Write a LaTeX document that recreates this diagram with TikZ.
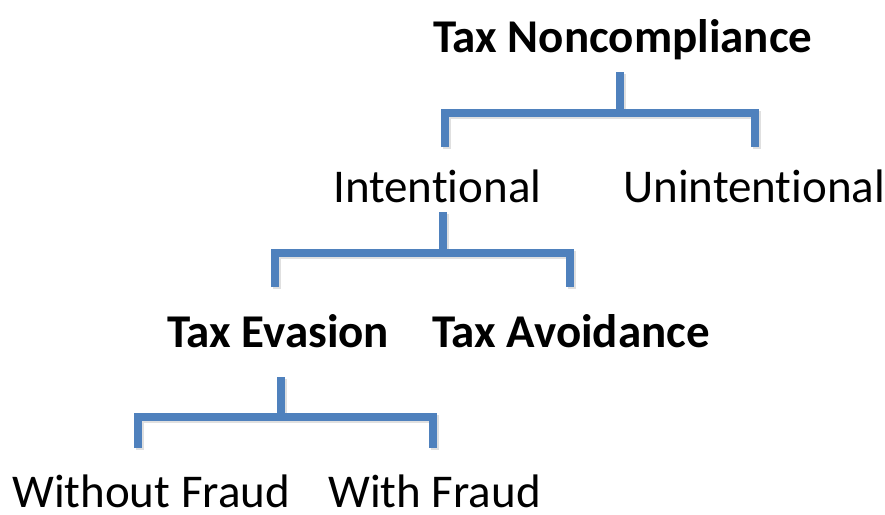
\documentclass[tikz,border=0pt]{standalone}
\usepackage{fontspec}
\setmainfont[Ligatures=NoCommon]{Carlito}
\definecolor{bracketblue}{HTML}{4F81BD}
% split the t-i pair so that it is set as two letters
\newcommand{\tsep}{t\kern0pt}
\begin{document}
\begin{tikzpicture}[x=1pt,y=-1pt,
  label/.style={anchor=base west,inner sep=0pt,font=\fontsize{47}{56}\selectfont},
  head/.style={label,font=\fontsize{47}{56}\selectfont\bfseries},
  bracket/.style={draw=bracketblue,line width=8pt,line cap=butt,miter limit=10},
  shade/.style={draw=black!35,opacity=0.35,line width=8pt,line cap=butt,miter limit=10}]
\useasboundingbox (0,0) rectangle (885,514);

% labels
\node[head]  (tn)  at (433,52)  {Tax Noncompliance};
\node[label] (int) at (333,202) {Inten\tsep ional};
\node[label] (un)  at (623,202) {Uninten\tsep ional};
\node[head]  (te)  at (167,347) {Tax Evasion};
\node[head]  (ta)  at (432,347) {Tax Avoidance};
\node[label] (wo)  at (12,507)  {Without Fraud};
\node[label] (wf)  at (328,507) {With Fraud};

% bracket anchor points
\coordinate (tnS) at (620,72);   \coordinate (tnB) at (620,113);
\coordinate (intT) at (445,147); \coordinate (unT) at (755,147);
\coordinate (intS) at (443,212); \coordinate (intB) at (443,253);
\coordinate (teT) at (275,287);  \coordinate (taT) at (570,287);
\coordinate (teS) at (281,377);  \coordinate (teB) at (281,417);
\coordinate (woT) at (138,448);  \coordinate (wfT) at (433,448);

% soft shadows
\foreach \s/\b/\l/\r in {tnS/tnB/intT/unT, intS/intB/teT/taT, teS/teB/woT/wfT}{
  \draw[shade,transform canvas={shift={(1.5pt,-2pt)}}] (\s) -- (\b);
  \draw[shade,transform canvas={shift={(1.5pt,-2pt)}}]
    (\l) -- (\l |- \b) -- (\r |- \b) -- (\r);
}

% brackets
\foreach \s/\b/\l/\r in {tnS/tnB/intT/unT, intS/intB/teT/taT, teS/teB/woT/wfT}{
  \draw[bracket] (\s) -- (\b);
  \draw[bracket] (\l) -- (\l |- \b) -- (\r |- \b) -- (\r);
}
\end{tikzpicture}
\end{document}
